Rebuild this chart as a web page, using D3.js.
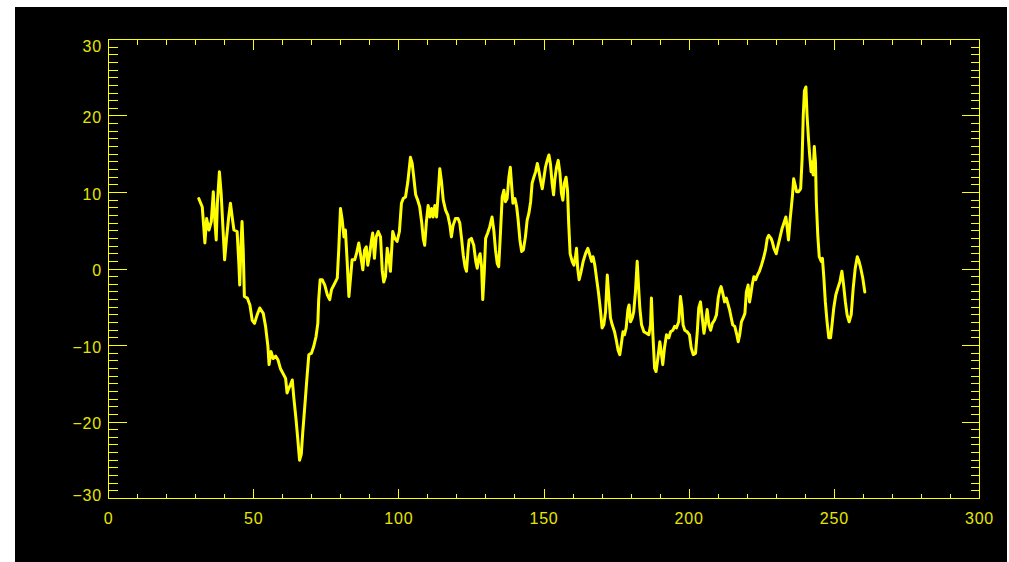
<!DOCTYPE html>
<html>
<head>
<meta charset="utf-8">
<script src="https://cdn.jsdelivr.net/npm/d3@7"></script>
<style>
  html, body { margin: 0; padding: 0; background: #ffffff; }
  svg { display: block; }
</style>
</head>
<body>
<svg id="chart" width="1009" height="562"></svg>
<script>
// ---- data ----
const sampleX = [
  31.1,32.3,32.8,33.2,33.8,34.6,35.4,36.1,36.5,37.1,37.5,38.2,38.8,39.4,40.0,40.6,41.4,42.0,42.6,43.2,
  44.3,44.9,45.2,45.7,46.0,46.4,46.8,47.8,48.7,49.5,50.3,51.2,52.1,53.3,54.1,54.9,55.3,56.0,56.7,57.6,
  58.4,59.2,61.0,61.5,62.1,62.7,63.3,63.8,64.6,65.3,65.8,66.4,66.9,67.6,68.4,69.0,69.9,70.7,71.5,72.1,
  72.4,72.9,73.6,74.5,75.4,76.2,76.8,77.6,78.8,79.3,79.9,80.5,81.1,81.6,82.2,82.8,83.4,83.9,84.8,85.4,
  86.2,87.0,87.6,88.2,88.8,89.3,89.9,90.6,91.0,91.6,92.2,92.9,93.7,94.3,94.8,95.4,96.0,96.6,97.1,97.9,
  98.6,99.4,100.2,100.9,101.5,102.3,103.1,104.0,104.6,105.2,105.8,106.5,107.2,107.9,108.4,108.9,109.5,110.1,110.7,111.3,
  111.8,112.4,113.0,113.6,114.1,114.7,115.3,116.1,116.9,117.6,118.1,118.7,119.5,120.4,121.0,121.6,122.2,122.8,123.3,123.8,
  124.2,125.0,125.8,126.5,127.0,127.6,128.0,128.5,128.9,129.4,129.9,130.6,131.3,132.1,132.7,133.3,133.9,134.4,135.0,135.6,
  136.2,136.7,137.3,137.9,138.4,138.8,139.3,140.0,140.6,141.1,141.7,142.3,142.9,143.6,144.2,144.8,145.4,145.9,146.5,147.1,
  147.7,148.2,148.8,149.4,150.0,150.5,151.1,151.7,152.2,152.8,153.3,153.7,154.3,154.9,155.5,156.0,156.5,157.0,157.6,158.1,
  158.5,159.0,159.7,160.3,160.9,161.2,161.6,162.1,162.8,163.5,164.3,165.1,165.8,166.4,166.9,167.5,168.1,168.8,169.5,170.0,
  170.6,171.2,171.8,172.3,172.9,173.5,174.3,175.0,175.5,176.1,176.6,177.2,177.7,178.3,178.9,179.3,179.8,180.4,180.9,181.5,
  182.1,182.6,183.0,183.6,184.4,185.3,186.1,186.7,187.0,187.5,188.1,188.6,189.2,189.9,190.5,190.9,191.5,192.2,193.0,193.6,
  194.4,195.0,195.6,196.4,197.0,197.5,197.9,198.5,199.3,200.1,200.7,201.4,202.2,202.8,203.3,203.9,204.5,205.1,205.7,206.2,
  206.8,207.4,208.0,208.7,209.4,210.0,210.6,211.0,211.6,212.2,212.8,213.3,213.9,214.5,215.0,215.7,216.3,216.9,217.4,218.0,
  218.6,219.2,219.7,220.3,220.8,221.2,221.7,222.3,222.9,223.5,224.2,224.9,225.6,226.3,226.9,227.4,228.2,228.6,229.2,230.0,
  230.5,231.2,232.0,232.8,233.3,233.8,234.2,234.7,235.2,235.6,236.0,236.5,237.0,237.7,238.4,238.9,239.3,239.7,240.2,240.6,
  241.1,241.5,242.0,242.3,242.7,243.1,243.5,243.8,244.3,244.8,245.5,245.9,246.4,246.9,247.5,248.1,248.7,249.2,249.8,250.5,
  251.2,251.9,252.6,253.2,253.8,254.4,255.1,255.8,256.5,257.2,257.9,258.5,259.1,259.8,260.5
];
const sampleY = [
  9.2,8.1,5.5,3.4,6.6,5.1,6.2,10.1,7.0,3.8,8.6,12.7,9.9,5.5,1.2,3.8,6.8,8.6,6.8,5.1,
  4.9,0.7,-2.1,3.8,6.2,2.5,-3.6,-3.8,-4.7,-6.7,-7.1,-6.0,-5.1,-5.8,-7.5,-10.1,-12.5,-10.8,-11.7,-11.4,
  -11.9,-13.0,-14.3,-16.2,-15.6,-15.1,-14.5,-16.7,-19.7,-22.7,-25.0,-24.2,-21.4,-18.0,-14.0,-11.2,-11.0,-10.1,-8.8,-7.1,
  -4.0,-1.4,-1.4,-2.1,-3.4,-4.0,-2.7,-2.1,-1.2,2.5,7.9,6.4,4.2,5.1,1.0,-3.6,-1.0,1.2,1.2,2.0,
  3.4,1.4,-0.1,2.5,2.9,0.5,1.8,3.8,4.7,1.4,4.2,4.9,4.2,-0.3,-1.7,-1.0,2.7,1.4,-0.3,4.9,
  4.0,3.6,4.9,8.6,9.2,9.4,11.4,14.6,13.8,11.8,9.7,9.0,8.1,6.0,4.0,3.1,6.2,8.3,6.8,7.9,
  6.8,8.3,6.8,10.1,13.1,11.4,9.0,7.7,7.0,5.7,4.2,5.7,6.6,6.6,6.0,4.0,1.8,0.3,-0.3,2.3,
  3.8,4.0,3.1,1.0,0.1,1.6,2.0,0.3,-4.0,-0.6,4.0,4.7,5.5,6.8,5.1,2.5,0.7,0.3,4.7,9.4,
  10.3,8.8,9.2,12.0,13.3,11.2,8.6,9.2,8.1,6.4,3.8,2.3,2.5,4.2,6.4,7.3,8.8,11.2,12.0,12.7,
  13.8,12.9,11.6,10.5,12.0,13.3,14.2,14.9,13.8,11.2,9.7,11.6,13.3,14.2,12.5,9.9,9.0,11.2,12.0,10.3,
  6.0,2.0,1.0,0.5,1.8,2.7,0.1,-1.4,-0.3,1.0,2.0,2.7,1.8,1.0,1.6,0.5,-1.2,-3.2,-5.6,-7.7,
  -7.3,-5.6,-0.8,-3.4,-6.4,-7.3,-8.2,-9.5,-10.6,-11.2,-9.9,-8.2,-8.6,-7.7,-5.3,-4.7,-6.9,-6.4,-5.6,-3.0,
  1.0,-2.5,-5.1,-7.3,-8.2,-8.4,-8.6,-7.3,-3.8,-8.6,-13.0,-13.4,-11.7,-9.5,-11.2,-12.5,-10.3,-8.6,-9.0,-8.2,
  -8.0,-7.5,-7.7,-6.9,-3.6,-5.1,-7.3,-8.0,-8.2,-8.6,-10.3,-11.2,-11.0,-8.2,-5.1,-4.3,-6.4,-8.4,-6.9,-5.3,
  -7.3,-8.0,-7.1,-6.7,-6.0,-3.8,-2.7,-2.3,-3.2,-4.3,-3.8,-4.5,-5.3,-6.4,-7.3,-7.5,-8.4,-9.5,-8.6,-6.9,
  -6.4,-5.8,-3.0,-2.1,-4.3,-3.4,-2.1,-1.0,-1.4,-0.8,-0.3,0.5,1.4,2.5,4.0,4.4,4.0,3.6,2.7,2.0,
  2.9,4.0,5.3,6.2,6.8,5.3,3.8,6.2,8.1,9.7,11.8,11.0,10.1,10.1,10.5,14.4,20.1,23.3,23.8,20.1,
  17.0,14.9,12.7,14.0,12.3,16.0,14.0,8.8,4.4,1.6,1.0,1.4,-1.2,-4.3,-6.9,-9.0,-9.0,-7.3,-5.1,-3.4,
  -2.5,-1.7,-0.3,-2.1,-4.3,-6.0,-6.9,-6.0,-2.5,0.1,1.6,1.0,0.1,-1.2,-3.0
];
const xDomain = [0, 300];
const yDomain = [-30, 30];
const xMajorTicks = [0, 50, 100, 150, 200, 250, 300];
const xTickLabels = ["0", "50", "100", "150", "200", "250", "300"];
const yMajorTicks = [-30, -20, -10, 0, 10, 20, 30];
const yTickLabels = ["\u221230", "\u221220", "\u221210", "0", "10", "20", "30"];
const xMinorStep = 10;
const yMinorStep = 1;

// ---- drawing ----
const yellow = "#ffff00";
const textColor = "#e6e600";
const svg = d3.select("#chart");

svg.append("rect")
  .attr("x", 15).attr("y", 7).attr("width", 992).attr("height", 555)
  .attr("fill", "#000000");

const x = d3.scaleLinear().domain(xDomain).range([108.5, 979.5]);
const y = d3.scaleLinear().domain(yDomain).range([498.5, 39.5]);

const xMinor = d3.range(xDomain[0], xDomain[1] + 0.001, xMinorStep).filter(v => !xMajorTicks.includes(v));
const yMinor = d3.range(yDomain[0], yDomain[1] + 0.001, yMinorStep).filter(v => !yMajorTicks.includes(v));

const axes = svg.append("g")
  .attr("stroke", yellow).attr("stroke-width", 1)
  .attr("shape-rendering", "crispEdges").attr("fill", "none");

// frame
axes.append("rect")
  .attr("x", x(xDomain[0])).attr("y", y(yDomain[1]))
  .attr("width", x(xDomain[1]) - x(xDomain[0]))
  .attr("height", y(yDomain[0]) - y(yDomain[1]));

const xMajLen = 10, xMinLen = 5, yMajLen = 18, yMinLen = 9;
const yb = y(yDomain[0]), yt = y(yDomain[1]);
const xl = x(xDomain[0]), xr = x(xDomain[1]);

function xTicks(vals, len) {
  axes.selectAll(null).data(vals).enter().append("line")
    .attr("x1", d => Math.round(x(d) - 0.5) + 0.5).attr("x2", d => Math.round(x(d) - 0.5) + 0.5)
    .attr("y1", yb).attr("y2", yb - len);
  axes.selectAll(null).data(vals).enter().append("line")
    .attr("x1", d => Math.round(x(d) - 0.5) + 0.5).attr("x2", d => Math.round(x(d) - 0.5) + 0.5)
    .attr("y1", yt).attr("y2", yt + len);
}
function yTicks(vals, len) {
  axes.selectAll(null).data(vals).enter().append("line")
    .attr("y1", d => Math.round(y(d) - 0.5) + 0.5).attr("y2", d => Math.round(y(d) - 0.5) + 0.5)
    .attr("x1", xl).attr("x2", xl + len);
  axes.selectAll(null).data(vals).enter().append("line")
    .attr("y1", d => Math.round(y(d) - 0.5) + 0.5).attr("y2", d => Math.round(y(d) - 0.5) + 0.5)
    .attr("x1", xr).attr("x2", xr - len);
}
xTicks(xMajorTicks.slice(1, -1), xMajLen);
xTicks(xMinor, xMinLen);
yTicks(yMajorTicks.slice(1, -1), yMajLen);
yTicks(yMinor, yMinLen);

// labels
const labels = svg.append("g")
  .attr("fill", textColor)
  .attr("font-family", "'Liberation Sans', Arial, sans-serif")
  .attr("font-size", 16);

labels.selectAll(null).data(xMajorTicks).enter().append("text")
  .attr("x", d => x(d))
  .attr("y", 524)
  .attr("text-anchor", "middle")
  .attr("letter-spacing", 0.8)
  .text((d, i) => xTickLabels[i]);

labels.selectAll(null).data(yMajorTicks).enter().append("text")
  .attr("x", 102)
  .attr("y", d => {
    if (d === yDomain[1]) return y(d) + 12.5;
    if (d === yDomain[0]) return y(d) + 2;
    return y(d) + 7;
  })
  .attr("text-anchor", "end")
  .attr("letter-spacing", 0.8)
  .text((d, i) => yTickLabels[i]);

// series line
const pts = sampleX.map((v, i) => [v, sampleY[i]]);
svg.append("path")
  .datum(pts)
  .attr("fill", "none")
  .attr("stroke", yellow)
  .attr("stroke-width", 3)
  .attr("stroke-linejoin", "round")
  .attr("stroke-linecap", "round")
  .attr("d", d3.line().x(d => x(d[0])).y(d => y(d[1])));
</script>
</body>
</html>
